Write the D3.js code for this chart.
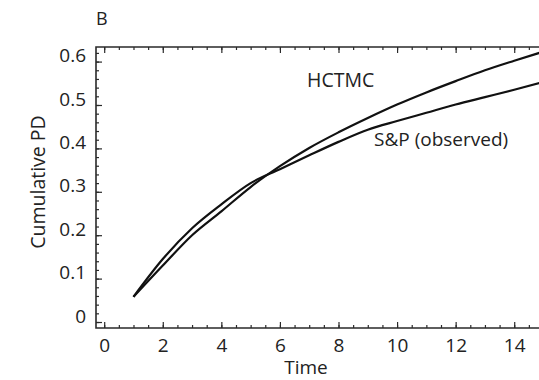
<!DOCTYPE html>
<html>
<head>
<meta charset="utf-8">
<script src="https://cdn.jsdelivr.net/npm/d3@7"></script>
<style>
body{margin:0;background:#fff;}
svg{display:block;font-family:"Open Sans",sans-serif;}
</style>
</head>
<body>
<svg id="chart" width="539" height="380"></svg>
<script>
// data
var time=[1,2,3,4,5,6,7,8,9,10,11,12,13,14,15];
var hctmc=[0.058,0.130,0.200,0.255,0.311,0.359,0.401,0.437,0.470,0.501,0.529,0.555,0.580,0.602,0.623];
var spObserved=[0.058,0.145,0.216,0.271,0.320,0.352,0.384,0.415,0.443,0.463,0.482,0.501,0.518,0.535,0.553];
var xTicks=[0,2,4,6,8,10,12,14];
var yTicks=[0,0.1,0.2,0.3,0.4,0.5,0.6];
var panelLabel="B";
var xTitle="Time";
var yTitle="Cumulative PD";

var svg=d3.select("#chart");
var plotLeft=96,plotRight=552,plotTop=47,plotBottom=328;

var x=d3.scaleLinear().domain([-0.28,15.29]).range([plotLeft,plotRight]);
var y=d3.scaleLinear().domain([-0.0138,0.6336]).range([plotBottom,plotTop]);

var axisColor="#2a2a2a";

//minor ticks
var xMinor=d3.range(0,15.01,0.5);
var yMinor=d3.range(0,0.621,0.02);

function styleAxis(g){
	g.select(".domain").remove();
	g.selectAll("line").attr("stroke",axisColor).attr("stroke-width",1.2);
	g.selectAll("text").attr("fill","#222").style("font-size","19px").style("font-family","'Open Sans',sans-serif");
}

// bottom
svg.append("g").attr("transform","translate(0,"+plotBottom+")")
	.call(d3.axisBottom(x).tickValues(xMinor).tickSize(-3).tickFormat(""))
	.call(styleAxis);
svg.append("g").attr("transform","translate(0,"+plotBottom+")")
	.call(d3.axisBottom(x).tickValues(xTicks).tickSize(-6).tickPadding(11).tickFormat(d3.format("d")))
	.call(styleAxis);
// top
svg.append("g").attr("transform","translate(0,"+plotTop+")")
	.call(d3.axisTop(x).tickValues(xMinor).tickSize(-3).tickFormat(""))
	.call(styleAxis);
svg.append("g").attr("transform","translate(0,"+plotTop+")")
	.call(d3.axisTop(x).tickValues(xTicks).tickSize(-6).tickFormat(""))
	.call(styleAxis);
// left
svg.append("g").attr("transform","translate("+plotLeft+",0)")
	.call(d3.axisLeft(y).tickValues(yMinor).tickSize(-3).tickFormat(""))
	.call(styleAxis);
svg.append("g").attr("transform","translate("+plotLeft+",0)")
	.call(d3.axisLeft(y).tickValues(yTicks).tickSize(-6).tickPadding(10).tickFormat(function(d){return d===0?"0":d3.format(".1f")(d);}))
	.call(styleAxis)
	.selectAll("text").attr("y",-6);

// frame
svg.append("path")
	.attr("d","M"+plotRight+","+plotTop+"H"+plotLeft+"V"+plotBottom+"H"+plotRight)
	.attr("fill","none").attr("stroke",axisColor).attr("stroke-width",1.6);

// curves
var curveLine=d3.line().x(function(d,i){return x(time[i]);}).y(function(d){return y(d);}).curve(d3.curveMonotoneX);

svg.append("path").datum(hctmc).attr("d",curveLine)
	.attr("fill","none").attr("stroke","#111").attr("stroke-width",2.2);
svg.append("path").datum(spObserved).attr("d",curveLine)
	.attr("fill","none").attr("stroke","#111").attr("stroke-width",2.2);

// annotations
svg.append("text").attr("x",307).attr("y",87).attr("fill","#222").style("font-size","19.5px").text("HCTMC");
svg.append("text").attr("x",374).attr("y",146).attr("fill","#222").style("font-size","19px").text("S&P (observed)");

svg.append("text").attr("x",96).attr("y",25).attr("fill","#222").style("font-size","18px").text(panelLabel);
svg.append("text").attr("x",306).attr("y",374).attr("text-anchor","middle").attr("fill","#222").style("font-size","19px").text(xTitle);
svg.append("text").attr("transform","translate(45,182) rotate(-90)").attr("text-anchor","middle").attr("fill","#222").style("font-size","19.5px").text(yTitle);
</script>
</body>
</html>
